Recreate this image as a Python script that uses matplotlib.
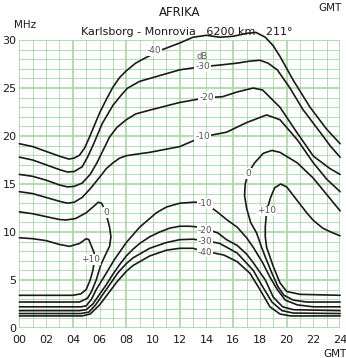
import numpy as np
import matplotlib.pyplot as plt

# field strength contours, (hour GMT, MHz)
# upper family (MUF side)
up_m40 = [(0, 19.2), (1, 18.9), (2, 18.4), (3, 17.9), (3.7, 17.6), (4.1, 17.7), (4.5, 18.0),
          (4.9, 18.8), (5.25, 19.9), (6, 22.4), (6.5, 23.8), (7, 25.1), (7.5, 26.1), (8, 26.8),
          (8.7, 27.6), (9.5, 28.2), (10.5, 28.9), (12, 29.7), (13, 30.3), (14, 30.5), (15, 30.3),
          (16, 30.4), (17, 30.7), (17.7, 30.8), (18.4, 30.3), (19, 29.4), (19.5, 28.3),
          (20.5, 25.8), (21.75, 23.0), (23, 20.7), (24, 19.2)]
up_m30 = [(0, 17.8), (1, 17.5), (2, 17.0), (3, 16.5), (3.6, 16.25), (4.1, 16.3), (4.7, 16.8),
          (5.1, 17.8), (5.5, 19.0), (6.2, 21.3), (7, 23.2), (7.7, 24.4), (8.1, 25.0), (9, 25.7),
          (9.75, 26.0), (11, 26.5), (12, 26.9), (13.5, 27.2), (15, 27.4), (16.3, 27.6),
          (17.2, 27.8), (18, 27.9), (18.6, 27.6), (19.3, 26.9), (20.25, 25.0), (21.2, 22.8),
          (22.5, 20.4), (23.3, 18.9), (24, 17.8)]
up_m20 = [(0, 16.0), (1, 15.8), (2, 15.4), (3, 14.9), (3.6, 14.7), (4.1, 14.75), (4.7, 15.1),
          (5.3, 16.0), (5.8, 17.2), (6.75, 19.9), (7.3, 20.9), (8, 21.7), (8.7, 22.3),
          (9.75, 22.7), (12, 23.5), (14, 24.0), (15.2, 24.1), (16.3, 24.6), (17.5, 25.0),
          (18.2, 24.8), (19.5, 23.0), (20.8, 20.3), (22, 17.9), (23.25, 16.6), (24, 16.0)]
up_m10 = [(0, 14.2), (1, 14.0), (2, 13.6), (3, 13.2), (3.6, 13.0), (4.1, 13.1), (4.7, 13.6),
          (5.3, 14.5), (6, 15.7), (6.5, 16.6), (7, 17.2), (7.5, 17.7), (8, 17.95), (8.7, 18.1),
          (9.75, 18.3), (12, 18.9), (13, 19.5), (14, 20.0), (15.5, 20.4), (17, 21.4),
          (18.5, 22.2), (19.5, 21.7), (20.8, 19.6), (22, 17.2), (23, 15.5), (24, 14.2)]

# closed loops (signal >= 0 / +10 dB at night)
lp_0_left = [(0, 12.1), (1, 11.9), (2, 11.6), (3, 11.3), (3.5, 11.25), (4.2, 11.4), (5, 12.0),
             (5.5, 12.6), (5.9, 13.1), (6.15, 13.0), (6.4, 12.3), (6.6, 11.3), (6.75, 10.5),
             (6.85, 9.5), (6.75, 8.5), (6.5, 7.8), (6.1, 6.6), (5.75, 5.0), (5.4, 3.8),
             (5.1, 3.1), (4.5, 2.7), (3, 2.7), (0, 2.7)]
lp_10_left = [(0, 9.4), (1, 9.3), (2, 9.1), (3, 8.7), (3.75, 8.5), (4.5, 8.8), (5.0, 9.3),
              (5.2, 9.2), (5.4, 8.5), (5.6, 7.8), (5.6, 6.9), (5.5, 6.0), (5.3, 5.0),
              (5.0, 4.0), (4.6, 3.55), (4.0, 3.4), (0, 3.4)]
lp_0_right = [(24, 12.2), (23, 13.9), (22, 15.6), (20.8, 17.2), (19.5, 18.3), (18.9, 18.5),
              (18.25, 18.2), (17.6, 17.2), (17.1, 16.1), (16.9, 15.0), (16.85, 13.8),
              (17.0, 12.5), (17.3, 11.0), (17.75, 9.9), (18.1, 8.5), (18.4, 7.4), (18.9, 5.7),
              (19.35, 4.3), (19.8, 3.4), (20.5, 2.9), (21.5, 2.7), (24, 2.7)]
lp_10_right = [(24, 9.6), (23.3, 10.0), (22.7, 10.4), (22, 11.2), (21.5, 12.0), (21, 12.9),
               (20.5, 13.8), (20, 14.7), (19.55, 15.0), (19.1, 14.6), (18.8, 13.6),
               (18.5, 12.2), (18.4, 10.5), (18.4, 9.5), (18.5, 8.4), (19, 6.4), (19.5, 4.7),
               (20, 3.8), (21, 3.5), (24, 3.4)]

# lower family (LUF side)
lo_m10 = [(0, 2.2), (4.6, 2.2), (5, 2.3), (5.4, 3.0), (5.75, 4.0), (6.5, 5.7), (7.1, 7.1),
          (8, 8.9), (9, 10.5), (10.25, 12.0), (11, 12.6), (12, 13.0), (13, 13.1), (13.6, 13.1),
          (14.2, 12.7), (14.8, 12.1), (15.5, 11.3), (16.3, 10.5), (17, 9.4), (17.5, 8.4),
          (18.2, 6.8), (18.75, 5.3), (19.3, 4.0), (19.9, 2.9), (20.8, 2.4), (22, 2.2), (24, 2.2)]
lo_m20 = [(0, 1.8), (4.5, 1.8), (5, 1.9), (5.5, 2.5), (6, 3.5), (6.5, 4.5), (7, 5.6),
          (7.5, 6.6), (8, 7.5), (8.5, 8.2), (9, 8.8), (9.75, 9.5), (10.5, 10.0), (11.25, 10.4),
          (12, 10.6), (12.75, 10.6), (13.5, 10.5), (14.2, 10.2), (14.85, 9.9), (15.5, 9.2),
          (16.3, 8.6), (17, 7.7), (17.5, 6.8), (18.4, 5.0), (19, 3.2), (19.7, 2.2), (20.5, 1.9),
          (24, 1.8)]
lo_m30 = [(0, 1.5), (4.6, 1.5), (5.2, 1.65), (5.7, 2.4), (6.2, 3.4), (6.8, 4.6), (7.4, 5.8),
          (8, 6.7), (8.5, 7.3), (9.75, 8.3), (11, 8.9), (12, 9.2), (13, 9.25), (13.7, 9.1),
          (14.3, 9.0), (15, 8.8), (16.3, 7.8), (17.5, 6.0), (18.2, 4.3), (18.9, 2.7),
          (19.65, 1.8), (20.5, 1.55), (24, 1.5)]
lo_m40 = [(0, 1.25), (4.7, 1.25), (5.3, 1.45), (6, 2.4), (6.6, 3.5), (7.3, 4.8), (8, 5.9),
          (8.5, 6.5), (9.75, 7.5), (11, 8.1), (12, 8.3), (13, 8.3), (13.7, 8.0), (14.6, 7.8),
          (15.3, 7.6), (16.3, 6.9), (17.25, 5.7), (18, 4.0), (18.75, 2.2), (19.5, 1.45),
          (20.3, 1.25), (24, 1.25)]

curves = [up_m40, up_m30, up_m20, up_m10, lp_0_left, lp_10_left, lp_0_right, lp_10_right,
          lo_m10, lo_m20, lo_m30, lo_m40]

# level labels: (hour, MHz, text)
lbl_pos = [(10.1, 28.9, '-40'), (13.7, 27.2, '-30'), (14.0, 24.0, '-20'), (13.7, 19.9, '-10'),
           (17.1, 16.1, '0'), (18.5, 12.2, '+10'), (6.5, 12.0, '0'), (5.3, 7.1, '+10'),
           (13.9, 13.0, '-10'), (13.9, 10.2, '-20'), (13.9, 9.0, '-30'), (13.9, 7.9, '-40')]

hour_ticks = np.arange(0, 25, 2)
hour_labels = ['%02d' % h for h in hour_ticks]
mhz_ticks = np.arange(0, 31, 5)

green = '#a3d8a3'
ink = '#1a1a1a'

fig = plt.figure(figsize=(3.46, 3.58), dpi=100)
ax = fig.add_axes([0.056, 0.084, 0.927, 0.804])
ax.set_xlim(0, 24)
ax.set_ylim(0, 30)

# graph paper
for h in range(25):
    ax.axvline(h, color=green, lw=1.2 if h % 4 == 0 else 0.6, zorder=0)
for f in range(31):
    ax.axhline(f, color=green, lw=1.2 if f % 5 == 0 else 0.6, zorder=0)

for c in curves:
    xs = [p[0] for p in c]
    ys = [p[1] for p in c]
    ax.plot(xs, ys, color=ink, lw=1.2, clip_on=False, solid_joinstyle='round',
            solid_capstyle='round', zorder=2)

for h, f, t in lbl_pos:
    ax.text(h, f, t, ha='center', va='center', fontsize=6.5, color='#555555', zorder=3,
            bbox=dict(facecolor='white', edgecolor='none', pad=0.6))
ax.text(13.7, 28.3, 'dB', ha='center', va='center', fontsize=6, color='#555555', zorder=3)

for s in ax.spines.values():
    s.set_visible(False)
ax.set_xticks(hour_ticks)
ax.set_xticklabels(hour_labels)
ax.set_yticks(mhz_ticks)
ax.tick_params(length=0, labelsize=8, colors=ink)
ax.tick_params(axis='x', pad=5)
ax.tick_params(axis='y', pad=2)

fig.text(0.52, 0.965, 'AFRIKA', ha='center', va='center', fontsize=8.5, color=ink)
fig.text(0.955, 0.978, 'GMT', ha='center', va='center', fontsize=7.5, color=ink)
fig.text(0.072, 0.93, 'MHz', ha='center', va='center', fontsize=7.5, color=ink)
fig.text(0.54, 0.91, 'Karlsborg - Monrovia   6200 km   211°', ha='center', va='center',
         fontsize=8, color=ink)
fig.text(0.968, 0.012, 'GMT', ha='center', va='center', fontsize=7.5, color=ink)

fig.savefig('out.png', dpi=100, facecolor='white')
